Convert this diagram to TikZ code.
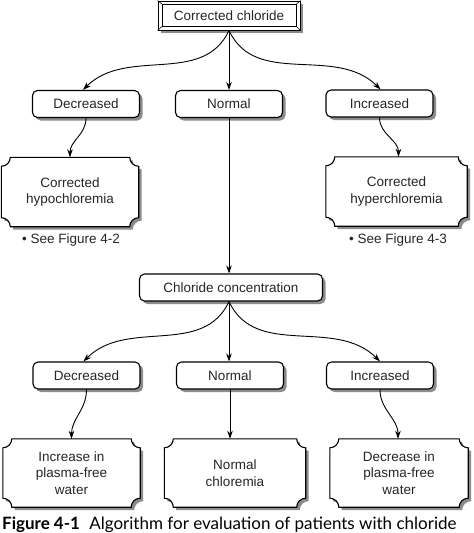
\documentclass[tikz,border=0pt]{standalone}
\usepackage{fontspec}
\setmainfont{Liberation Sans}
\newfontfamily\capfont{Lato}
\usetikzlibrary{arrows.meta,shadows,calc}
\pgfdeclarelayer{bg}
\pgfsetlayers{bg,main}
\tikzset{
  txt/.style={font=\fontsize{13.5}{16.5}\selectfont, text=black!85},
  shd/.style={drop shadow={shadow xshift=3pt, shadow yshift=-3pt, fill=black!45, opacity=1}},
  rbox/.style={txt, draw, line width=1.1pt, rounded corners=5pt, fill=white,
    minimum width=107pt, minimum height=27pt, inner sep=0pt, shd},
  sbox/.style={txt, minimum height=69pt, inner sep=0pt, align=center},
  arr/.style={-{Stealth[length=8pt,width=5.5pt]}, line width=0.9pt},
}
\newcommand\scallop[2]{\path[#2] ([xshift=9pt]#1.north west) -- ([xshift=-9pt]#1.north east)
  arc[start angle=180,end angle=270,radius=9pt] -- ([yshift=9pt]#1.south east)
  arc[start angle=90,end angle=180,radius=9pt] -- ([xshift=9pt]#1.south west)
  arc[start angle=0,end angle=90,radius=9pt] -- ([yshift=-9pt]#1.north west)
  arc[start angle=270,end angle=360,radius=9pt] -- cycle;}
\newcommand\scbox[1]{%
  \begin{pgfonlayer}{bg}
    \scallop{#1}{fill=black!45, transform canvas={shift={(3pt,-3pt)}}}
    \scallop{#1}{fill=white}
  \end{pgfonlayer}
  \scallop{#1}{draw, line width=1.1pt}}
\begin{document}
\begin{tikzpicture}[x=1pt,y=1pt]
\useasboundingbox (0,0) rectangle (474,-533);
% top box
\node[txt, draw, line width=1pt, fill=white, minimum width=142pt, minimum height=29pt,
  inner sep=0pt, shd] (top) at (229,-15.5) {Corrected chloride};
\draw[line width=0.8pt] ([shift={(4.5pt,-3.5pt)}]top.north west) rectangle ([shift={(-4pt,4pt)}]top.south east);
\draw[line width=0.6pt] (top.north west) -- ([shift={(4.5pt,-3.5pt)}]top.north west)
  (top.north east) -- ([shift={(-4pt,-3.5pt)}]top.north east)
  (top.south west) -- ([shift={(4.5pt,4pt)}]top.south west)
  (top.south east) -- ([shift={(-4pt,4pt)}]top.south east);
% row 1
\node[rbox] (dec1) at (86,-104) {Decreased};
\node[rbox] (nor1) at (229,-104) {Normal};
\node[rbox] (inc1) at (379.5,-103.5) {Increased};
% results 1
\node[sbox, minimum width=137pt] (hypo) at (70,-192) {Corrected\\hypochloremia};
\node[sbox, minimum width=141pt] (hyper) at (396.5,-191.5) {Corrected\\hyperchloremia};
\scbox{hypo}
\scbox{hyper}
\node[txt] (see1) at (71,-240) {• See Figure 4-2};
\node[txt] (see2) at (398,-240) {• See Figure 4-3};
% chloride concentration
\node[rbox, minimum width=183pt] (chl) at (231,-287.5) {Chloride concentration};
% row 2
\node[rbox] (dec2) at (86.5,-375.5) {Decreased};
\node[rbox] (nor2) at (230,-375.5) {Normal};
\node[rbox] (inc2) at (380,-375.5) {Increased};
% results 2
\node[sbox, minimum width=137pt, minimum height=68pt] (b1) at (71.5,-473) {Increase in\\plasma-free\\water};
\node[sbox, minimum width=141pt, minimum height=68pt] (b2) at (235,-473) {Normal\\chloremia};
\node[sbox, minimum width=138pt, minimum height=68pt] (b3) at (399,-473) {Decrease in\\plasma-free\\water};
\scbox{b1}
\scbox{b2}
\scbox{b3}
% connectors
\draw[arr] (top.south) to[out=-115,in=45] ([xshift=-3pt]dec1.north);
\draw[arr] (top.south) -- (nor1.north);
\draw[arr] (top.south) to[out=-65,in=135] ([xshift=1pt]inc1.north);
\draw[arr] (dec1.south) to[out=-90,in=90] (hypo.north);
\draw[arr] (inc1.south) to[out=-90,in=90] ([xshift=2pt]hyper.north);
\draw[arr] (nor1.south) -- (nor1.south |- chl.north);
\coordinate (cs) at ([xshift=-2pt]chl.south);
\draw[arr] (cs) to[out=-115,in=45] ([xshift=-3pt]dec2.north);
\draw[arr] (cs) -- (cs |- nor2.north);
\draw[arr] (cs) to[out=-65,in=135] ([xshift=0pt]inc2.north);
\draw[arr] (dec2.south) to[out=-90,in=90] (b1.north);
\draw[arr] (nor2.south) -- (nor2.south |- b2.north);
\draw[arr] (inc2.south) to[out=-90,in=90] ([xshift=-1pt]b3.north);
% caption
\node[anchor=base west, inner sep=0pt, font=\capfont\fontsize{17}{20}\selectfont] (cap) at (2,-529)
  {\textbf{Figure 4-1}\hspace{0.55em}Algorithm for evaluation of patients with chloride};
\end{tikzpicture}
\end{document}
